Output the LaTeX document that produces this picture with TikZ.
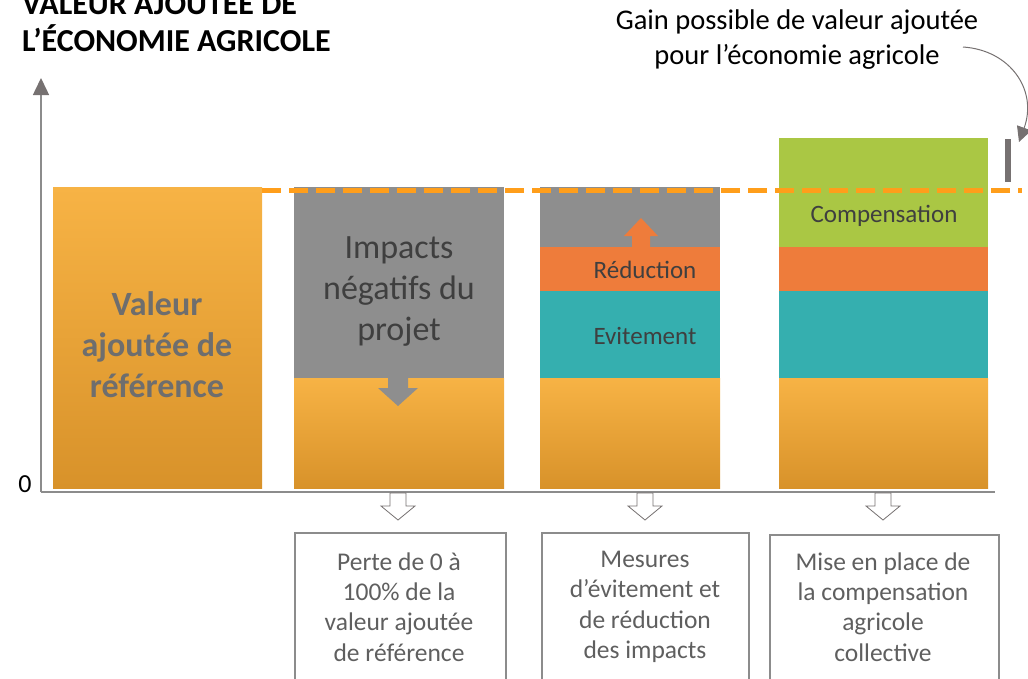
\documentclass[tikz,border=0pt]{standalone}
\usepackage{fontspec}
\setmainfont{Carlito}
\usetikzlibrary{arrows.meta}
\definecolor{barorT}{HTML}{F7B345}
\definecolor{barorB}{HTML}{D8922A}
\definecolor{bargray}{HTML}{8E8E8E}
\definecolor{redor}{HTML}{EE7C3B}
\definecolor{teal}{HTML}{35AFAF}
\definecolor{greenb}{HTML}{AAC744}
\definecolor{dashor}{HTML}{FF9E1B}
\definecolor{axisg}{HTML}{8C8C8C}
\definecolor{arrg}{HTML}{767171}
\definecolor{bartxt}{HTML}{6E6E6E}
\definecolor{darktxt}{HTML}{3F3F3F}
\definecolor{boxtxt}{HTML}{5F5F5F}
\tikzset{
  blk/.style={inner sep=0pt, outer sep=0pt, anchor=north west},
  orangebar/.style={blk, top color=barorT, bottom color=barorB, draw=none},
  fillbar/.style={blk, fill=#1, draw=none},
  barlabel/.style={font=\fontsize{34}{41}\selectfont, align=center, text=darktxt},
  layerlabel/.style={font=\fontsize{25}{30}\selectfont, text=darktxt},
  infobox/.style={draw=axisg, line width=1.5pt, anchor=north west, inner sep=0pt, minimum width=210pt, minimum height=160pt},
  infotext/.style={font=\fontsize{25.5}{30.3}\selectfont, text=boxtxt, align=center},
  hollow/.style={draw=arrg, line width=0.8pt, fill=white},
  orline/.style={draw=dashor, line width=5pt, dash pattern=on 19pt off 8pt},
}
\begin{document}
\begin{tikzpicture}[x=1pt,y=-1pt]
\useasboundingbox (0,0) rectangle (1028,678);
% title
\node[anchor=south west, inner sep=0pt, font=\bfseries\fontsize{32}{37}\selectfont, align=left] (title) at (22,52) {VALEUR AJOUTÉE DE\\L’ÉCONOMIE AGRICOLE};
% gain label
\node[inner sep=0pt, font=\fontsize{28.5}{35}\selectfont, align=center] (gain) at (797,40) {Gain possible de valeur ajoutée\\pour l’économie agricole};
% axes
\coordinate (origin) at (41,492);
\coordinate (ytop) at (41,78);
\coordinate (xend) at (995,492);
\draw[axisg, line width=1.5pt, -{Triangle[length=17pt,width=16pt,color=arrg]}] (origin) -- (ytop);
\draw[axisg, line width=1.5pt] (origin) -- (xend);
\node[anchor=east, font=\fontsize{26}{30}\selectfont] (zero) at (35,484) {0};
% bar 1
\node[orangebar, minimum width=209pt, minimum height=301pt] (b1) at (53,187) {};
\node[barlabel, font=\bfseries\fontsize{34}{41}\selectfont, text=bartxt] (b1t) at (157,345) {Valeur\\ajoutée de\\référence};
% bar 2
\node[orangebar, minimum width=210pt, minimum height=110pt] (b2o) at (294,378) {};
\node[fillbar=bargray, minimum width=210pt, minimum height=191pt] (b2g) at (294,187) {};
\node[barlabel] (b2t) at (399,291) {Impacts\\négatifs du\\projet};
\draw[fill=bargray, draw=none] (388,377) -- (408,377) -- (408,388) -- (418,388) -- (398,406) -- (378,388) -- (388,388) -- cycle;
% bar 3
\node[orangebar, minimum width=180pt, minimum height=110pt] (b3o) at (540,378) {};
\node[fillbar=teal, minimum width=180pt, minimum height=87pt] (b3t) at (540,291) {};
\node[fillbar=redor, minimum width=180pt, minimum height=44pt] (b3r) at (540,247) {};
\node[fillbar=bargray, minimum width=180pt, minimum height=60pt] (b3g) at (540,187) {};
\draw[fill=redor, draw=none] (632,248) -- (650,248) -- (650,236) -- (658,236) -- (641,218) -- (624,236) -- (632,236) -- cycle;
\node[layerlabel] (red3) at (645,270) {Réduction};
\node[layerlabel] (evi3) at (645,336) {Evitement};
% bar 4
\node[orangebar, minimum width=209pt, minimum height=110pt] (b4o) at (779,378) {};
\node[fillbar=teal, minimum width=209pt, minimum height=87pt] (b4t) at (779,291) {};
\node[fillbar=redor, minimum width=209pt, minimum height=44pt] (b4r) at (779,247) {};
\node[fillbar=greenb, minimum width=209pt, minimum height=109pt] (b4g) at (779,138) {};
\node[layerlabel] (comp) at (884,216) {Compensation};
% dashed reference line
\coordinate (dl0) at (262,190);
\coordinate (dl1) at (1022,190);
\draw[orline] (dl0) -- (dl1);
% gain marker
\node[fill=arrg, inner sep=0pt, minimum width=6pt, minimum height=43pt, anchor=north] (gainbar) at (1008,139) {};
\coordinate (gaintip) at (1019,142);
\draw[arrg, line width=1pt, -{Triangle[length=15pt,width=15pt]}] (963,47) .. controls (1010,50) and (1038,90) .. (gaintip);
% info boxes
\node[infobox, minimum width=211pt] (box1) at (294,532) {};
\node[infobox, minimum width=207pt] (box2) at (541,532) {};
\node[infobox, minimum width=229pt] (box3) at (769,534) {};
\node[infotext] (t1) at (399,607) {Perte de 0 à\\100\% de la\\valeur ajoutée\\de référence};
\node[infotext] (t2) at (645,607) {Mesures\\d’évitement et\\de réduction\\des impacts};
\node[infotext] (t3) at (883,607) {Mise en place de\\la compensation\\agricole\\collective};
% hollow arrows
\foreach \cx in {398,645,883}{
  \draw[hollow] (\cx-8,493) -- (\cx+8,493) -- (\cx+8,506) -- (\cx+17,506) -- (\cx,520) -- (\cx-17,506) -- (\cx-8,506) -- cycle;
}
\end{tikzpicture}
\end{document}
